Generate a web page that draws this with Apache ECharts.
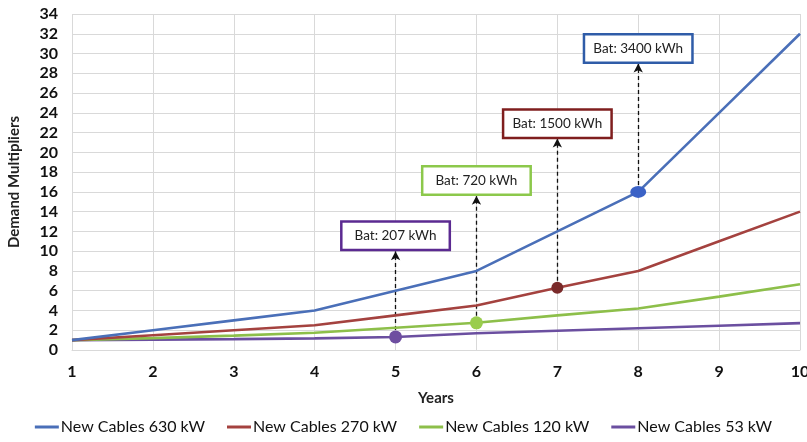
<!DOCTYPE html>
<html><head><meta charset="utf-8">
<script src="https://cdn.jsdelivr.net/npm/echarts@6/dist/echarts.min.js"></script>
<style>html,body{margin:0;padding:0;background:#fff;overflow:hidden}#c{width:807px;height:442px}</style>
</head><body><div id="c"></div>
<script>
const years = [1,2,3,4,5,6,7,8,9,10];
const seriesNames = ['New Cables 630 kW','New Cables 270 kW','New Cables 120 kW','New Cables 53 kW'];
const v630 = [1, 2, 3, 4, 6, 8, 12, 16, 24, 32];
const v270 = [1, 1.5, 2, 2.5, 3.5, 4.5, 6.3, 8, 11, 14];
const v120 = [1, 1.2, 1.45, 1.75, 2.25, 2.75, 3.5, 4.2, 5.4, 6.65];
const v53  = [1, 1.05, 1.1, 1.18, 1.32, 1.7, 1.95, 2.2, 2.46, 2.72];
const batLabels = ['Bat: 3400 kWh','Bat: 1500 kWh','Bat: 720 kWh','Bat: 207 kWh'];
const markYear = [8, 7, 6, 5];

const lineColors = ['#4A6FB8','#A4423F','#8DBF4A','#6B4FA0'];
const markerColors = ['#3B62C6','#7A2A2A','#9ACD4E','#6E4EA0'];
const boxColors = ['#2F5CA8','#7F1E1E','#8CC84B','#5B2A91'];
const markerSizes = [[16,12],12,13,13];
const boxY = [30.5, 22.9, 17.15, 11.55];
const arrowTop = [29.0, 21.4, 15.6, 10.0];
const allVals = [v630, v270, v120, v53];
const FONT = 'Lato';

const series = allVals.map((vals, s) => {
  const idx = years.indexOf(markYear[s]);
  return {
    name: seriesNames[s], type: 'line',
    symbol: 'circle', symbolSize: 0, showSymbol: true,
    lineStyle: {color: lineColors[s], width: 2.6},
    itemStyle: {color: lineColors[s]},
    data: years.map((x, i) => i === idx
      ? {value: [x, vals[i]], symbolSize: markerSizes[s], itemStyle: {color: markerColors[s]}}
      : [x, vals[i]]),
    z: 10 - s,
    markLine: {
      silent: true, symbol: ['none', 'arrow'], symbolSize: [7, 9],
      lineStyle: {type: [4, 3], color: '#111', width: 1.3},
      label: {show: false},
      data: [[{coord: [markYear[s], vals[idx]]}, {coord: [markYear[s], arrowTop[s]]}]]
    },
    markPoint: {
      silent: true,
      data: [{
        coord: [markYear[s], boxY[s]], symbol: 'rect', symbolSize: 1,
        itemStyle: {color: 'rgba(0,0,0,0)'},
        label: {show: true, position: 'inside', align: 'center', verticalAlign: 'middle',
          formatter: batLabels[s], color: '#222', fontSize: 13.5, fontFamily: FONT,
          backgroundColor: '#fff', borderColor: boxColors[s], borderWidth: 2.5,
          width: 88, height: 16, lineHeight: 16, padding: [5, 9, 5, 9]}
      }]
    }
  };
});

const chart = echarts.init(document.getElementById('c'));
chart.setOption({
  animation: false,
  grid: {left: 72, right: 7, top: 14, bottom: 92, containLabel: false, outerBoundsMode: 'none'},
  xAxis: {
    type: 'value', min: 1, max: 10, interval: 1,
    name: 'Years', nameLocation: 'middle', nameGap: 41,
    nameTextStyle: {fontFamily: FONT, fontWeight: 'bold', fontSize: 15, color: '#222'},
    axisLine: {show: true, lineStyle: {color: '#d9d9d9'}},
    axisTick: {show: false},
    axisLabel: {fontFamily: FONT, fontWeight: 'bold', fontSize: 16, color: '#111', margin: 14},
    splitLine: {show: true, lineStyle: {color: '#d9d9d9'}}
  },
  yAxis: {
    type: 'value', min: 0, max: 34, interval: 2,
    name: 'Demand Multipliers', nameLocation: 'middle', nameGap: 50,
    nameTextStyle: {fontFamily: FONT, fontWeight: 'bold', fontSize: 15, color: '#222'},
    axisLine: {show: false}, axisTick: {show: false},
    axisLabel: {fontFamily: FONT, fontWeight: 'bold', fontSize: 16, color: '#111', margin: 14},
    splitLine: {show: true, lineStyle: {color: '#d9d9d9'}}
  },
  legend: {
    bottom: 2, left: 'center', itemGap: 22, itemWidth: 24, itemHeight: 3, icon: 'rect',
    textStyle: {fontFamily: FONT, fontSize: 16, color: '#111', padding: [0, 0, 0, -3]},
    data: seriesNames.map((n, s) => ({name: n, itemStyle: {color: lineColors[s]}}))
  },
  series: series
});
</script></body></html>
